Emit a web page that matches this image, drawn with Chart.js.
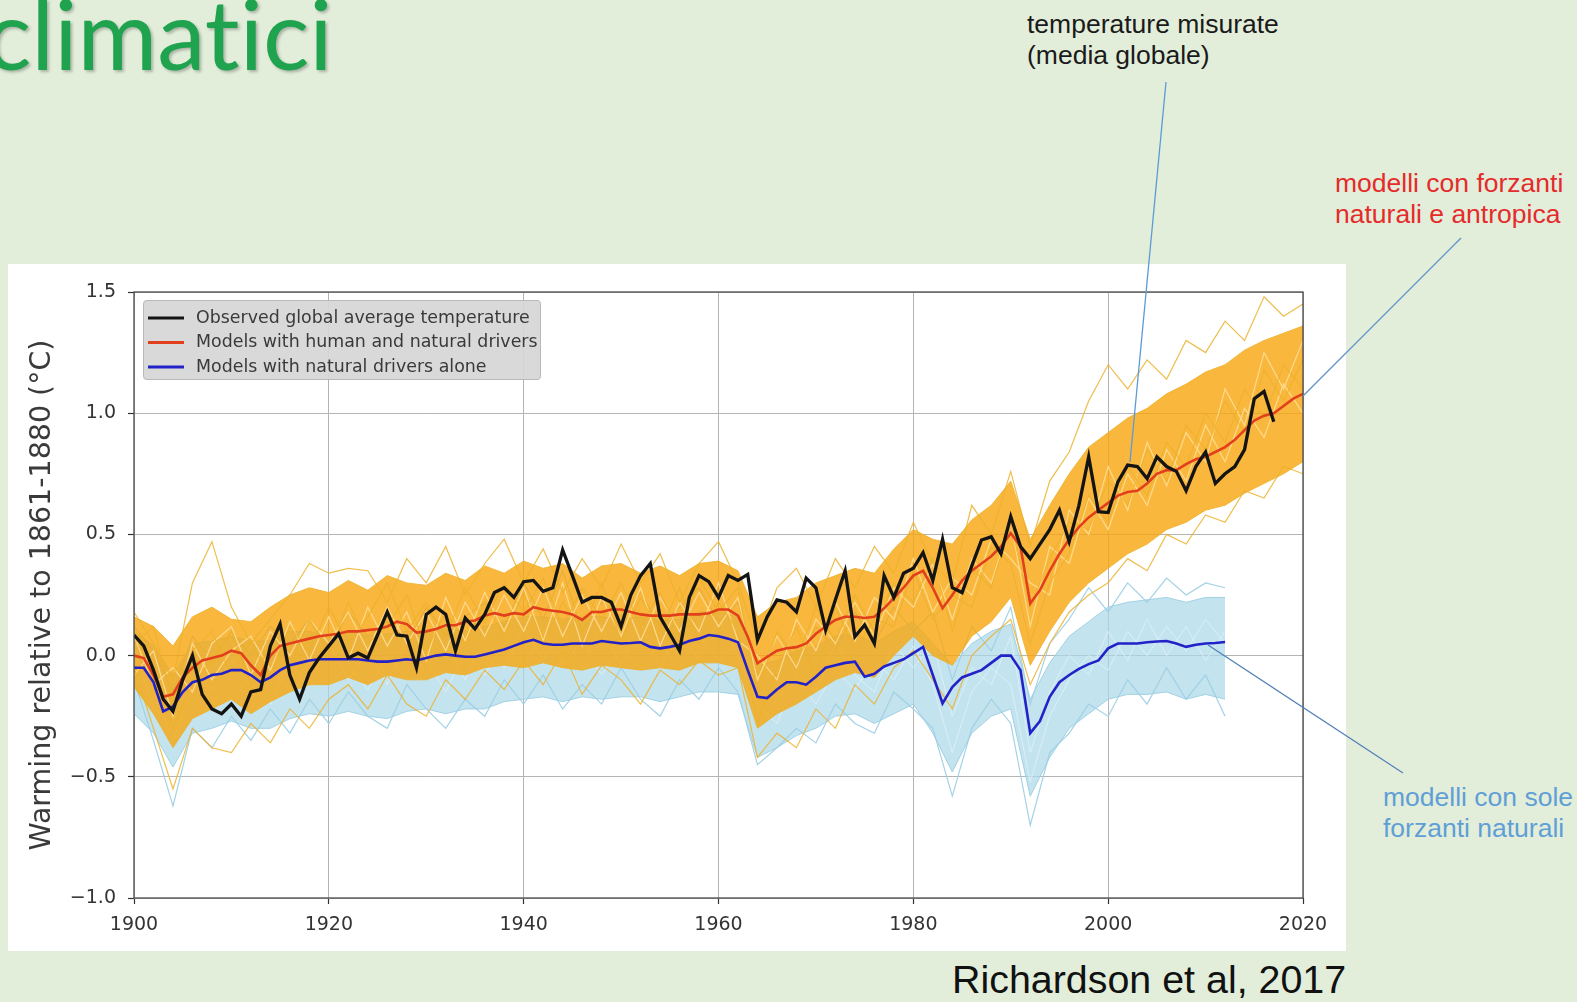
<!DOCTYPE html>
<html lang="it">
<head>
<meta charset="utf-8">
<title>Richardson et al, 2017</title>
<script src="https://cdn.jsdelivr.net/npm/chart.js@4.4.1/dist/chart.umd.min.js"></script>
<style>
    html, body { margin: 0; padding: 0; }
    body {
        width: 1577px; height: 1002px; position: relative; overflow: hidden;
        background: #e2eeda;
        font-family: "Liberation Sans", Arial, sans-serif;
    }
    .slide-title {
        position: absolute; left: -15px; top: -16px;
        font-family: Lato, "Open Sans", sans-serif; font-size: 97px; line-height: 1;
        font-variant-ligatures: none; font-feature-settings: "liga" 0;
        color: #1fa34f; text-shadow: 2px 2px 3px rgba(0, 0, 0, 0.25);
        white-space: nowrap;
    }
    #panel { position: absolute; left: 8px; top: 264px; width: 1338px; height: 687px; background: #fff; }
    .note { position: absolute; font-size: 26.5px; line-height: 31px; white-space: nowrap; }
    .note-black { left: 1027px; top: 9px; color: #1a1a1a; }
    .note-red { left: 1335px; top: 168px; color: #e52b2b; }
    .note-blue { left: 1383px; top: 782px; color: #5f9fd6; }
    .source { position: absolute; left: 952px; top: 960px; font-size: 39.4px; line-height: 1; color: #111; white-space: nowrap; }
    #leaders { position: absolute; left: 0; top: 0; pointer-events: none; }
</style>
</head>
<body>
<div class="slide-title">climatici</div>

<div class="note note-black">temperature misurate<br>(media globale)</div>
<div class="note note-red">modelli con forzanti<br>naturali e antropica</div>
<div class="note note-blue">modelli con sole<br>forzanti naturali</div>

<div id="panel"><canvas id="warming-chart" width="1338" height="687"></canvas></div>

<div class="source">Richardson et al, 2017</div>

<svg id="leaders" width="1577" height="1002">
    <line x1="1166" y1="82" x2="1130" y2="462" stroke="#5b9bd5" stroke-width="1.3"/>
    <line x1="1461" y1="238" x2="1303" y2="396" stroke="#5b8fc9" stroke-width="1.2"/>
    <line x1="1403" y1="773" x2="1208" y2="645" stroke="#4f7fb8" stroke-width="1.2"/>
</svg>

<script>
// Axis ticks
const xTicks = [1900, 1920, 1940, 1960, 1980, 2000, 2020];
const xTickLabels = ['1900', '1920', '1940', '1960', '1980', '2000', '2020'];
const yTicks = [-1.0, -0.5, 0.0, 0.5, 1.0, 1.5];
const yTickLabels = ['\u22121.0', '\u22120.5', '0.0', '0.5', '1.0', '1.5'];

// Legend entries
const legendLabels = [
    'Observed global average temperature',
    'Models with human and natural drivers',
    'Models with natural drivers alone'
];

// Observed global average temperature, yearly from 1900
const observedStart = 1900;
const observedValues = [
    0.085, 0.04, -0.06, -0.18, -0.23, -0.10, 0.00, -0.16, -0.22, -0.24,
    -0.20, -0.25, -0.15, -0.14, 0.04, 0.13, -0.08, -0.18, -0.07, -0.01,
    0.04, 0.09, -0.01, 0.01, -0.01, 0.085, 0.18, 0.085, 0.08, -0.05,
    0.17, 0.20, 0.17, 0.02, 0.155, 0.11, 0.17, 0.26, 0.28, 0.24,
    0.305, 0.31, 0.265, 0.28, 0.436, 0.33, 0.22, 0.24, 0.24, 0.22,
    0.12, 0.25, 0.33, 0.38, 0.16, 0.09, 0.02, 0.24, 0.33, 0.305,
    0.24, 0.33, 0.31, 0.335, 0.064, 0.16, 0.23, 0.22, 0.18, 0.32,
    0.28, 0.105, 0.23, 0.35, 0.078, 0.126, 0.05, 0.33, 0.24, 0.34,
    0.36, 0.425, 0.31, 0.48, 0.28, 0.26, 0.37, 0.477, 0.49, 0.42,
    0.573, 0.45, 0.40, 0.46, 0.52, 0.60, 0.47, 0.62, 0.82, 0.594,
    0.59, 0.717, 0.786, 0.78, 0.73, 0.82, 0.78, 0.76, 0.68, 0.78,
    0.84, 0.71, 0.75, 0.78, 0.85, 1.06, 1.09, 0.965
];

// Multi-model mean, human + natural drivers, yearly from 1900
const humanStart = 1900;
const humanMean = [
    0.00, -0.01, -0.08, -0.17, -0.16, -0.09, -0.05, -0.02, -0.01, 0.00,
    0.02, 0.01, -0.04, -0.08, 0.00, 0.04, 0.05, 0.06, 0.07, 0.08,
    0.085, 0.09, 0.10, 0.10, 0.105, 0.11, 0.12, 0.14, 0.13, 0.095,
    0.10, 0.11, 0.125, 0.125, 0.14, 0.145, 0.165, 0.175, 0.165, 0.175,
    0.17, 0.20, 0.19, 0.185, 0.18, 0.17, 0.147, 0.18, 0.18, 0.19,
    0.19, 0.18, 0.17, 0.165, 0.165, 0.165, 0.17, 0.17, 0.17, 0.175,
    0.19, 0.19, 0.165, 0.078, -0.032, -0.005, 0.02, 0.03, 0.035, 0.05,
    0.09, 0.12, 0.147, 0.16, 0.16, 0.155, 0.16, 0.195, 0.237, 0.28,
    0.33, 0.35, 0.28, 0.195, 0.25, 0.31, 0.35, 0.38, 0.41, 0.45,
    0.505, 0.45, 0.215, 0.27, 0.35, 0.42, 0.48, 0.53, 0.57, 0.60,
    0.63, 0.66, 0.675, 0.68, 0.71, 0.75, 0.765, 0.765, 0.79, 0.81,
    0.82, 0.84, 0.86, 0.89, 0.93, 0.97, 0.99, 1.00, 1.03, 1.06,
    1.08
];

// Multi-model mean, natural drivers only, yearly from 1900
const naturalStart = 1900;
const naturalMean = [
    -0.05, -0.05, -0.11, -0.23, -0.21, -0.15, -0.11, -0.10, -0.08, -0.075,
    -0.06, -0.06, -0.08, -0.11, -0.09, -0.06, -0.04, -0.03, -0.02, -0.015,
    -0.015, -0.015, -0.015, -0.015, -0.02, -0.025, -0.025, -0.02, -0.015, -0.02,
    -0.01, 0.00, 0.005, 0.00, -0.005, -0.005, 0.005, 0.015, 0.025, 0.04,
    0.055, 0.065, 0.05, 0.045, 0.045, 0.05, 0.05, 0.05, 0.06, 0.055,
    0.05, 0.052, 0.055, 0.036, 0.03, 0.036, 0.045, 0.06, 0.07, 0.085,
    0.08, 0.07, 0.055, -0.06, -0.17, -0.175, -0.14, -0.11, -0.11, -0.12,
    -0.087, -0.05, -0.04, -0.03, -0.025, -0.087, -0.075, -0.045, -0.03, -0.015,
    0.01, 0.036, -0.08, -0.197, -0.13, -0.09, -0.075, -0.06, -0.03, 0.00,
    0.00, -0.06, -0.32, -0.27, -0.17, -0.11, -0.08, -0.055, -0.035, -0.02,
    0.03, 0.05, 0.05, 0.05, 0.055, 0.058, 0.06, 0.05, 0.036, 0.045,
    0.05, 0.052, 0.056
];

// Ensemble spread, every second year (human + natural), 1900-2020
const ensembleStart = 1900;
const ensembleStep = 2;
const humanUpper = [
    0.16, 0.12, 0.04, 0.16, 0.20, 0.15, 0.14, 0.20, 0.25, 0.28,
    0.26, 0.31, 0.27, 0.33, 0.30, 0.29, 0.34, 0.31, 0.37, 0.34,
    0.39, 0.36, 0.38, 0.32, 0.37, 0.38, 0.34, 0.37, 0.33, 0.38,
    0.39, 0.35, 0.16, 0.22, 0.24, 0.30, 0.33, 0.36, 0.34, 0.44,
    0.52, 0.48, 0.46, 0.56, 0.62, 0.72, 0.48, 0.62, 0.75, 0.86,
    0.92, 0.98, 1.02, 1.08, 1.12, 1.17, 1.20, 1.26, 1.30, 1.33,
    1.36
];
const humanLower = [
    -0.13, -0.24, -0.38, -0.26, -0.22, -0.18, -0.24, -0.19, -0.15, -0.12,
    -0.12, -0.09, -0.12, -0.08, -0.10, -0.10, -0.07, -0.08, -0.05, -0.04,
    -0.05, -0.03, -0.05, -0.06, -0.04, -0.05, -0.06, -0.05, -0.06, -0.03,
    -0.03, -0.05, -0.30, -0.24, -0.20, -0.15, -0.10, -0.07, -0.09, 0.00,
    0.08, 0.00, -0.04, 0.08, 0.14, 0.24, -0.04, 0.10, 0.22, 0.30,
    0.36, 0.42, 0.46, 0.52, 0.55, 0.60, 0.62, 0.67, 0.71, 0.75,
    0.80
];
// Individual runs, human + natural
const humanRunA = [
    0.18, 0.05, -0.10, 0.30, 0.47, 0.20, 0.05, 0.15, 0.25, 0.38,
    0.34, 0.36, 0.35, 0.22, 0.40, 0.30, 0.45, 0.25, 0.38, 0.48,
    0.30, 0.44, 0.26, 0.40, 0.28, 0.46, 0.30, 0.42, 0.22, 0.38,
    0.47, 0.30, 0.05, 0.28, 0.36, 0.20, 0.40, 0.28, 0.45, 0.34,
    0.55, 0.38, 0.30, 0.62, 0.50, 0.76, 0.45, 0.72, 0.84, 1.05,
    1.20, 1.10, 1.22, 1.14, 1.30, 1.25, 1.38, 1.30, 1.48, 1.40,
    1.45
];
const humanRunB = [
    -0.05, -0.30, -0.55, -0.30, -0.38, -0.40, -0.28, -0.36, -0.22, -0.30,
    -0.18, -0.12, -0.22, -0.08, -0.20, -0.25, -0.10, -0.18, -0.06, -0.14,
    -0.02, -0.12, 0.02, -0.16, -0.04, -0.10, -0.20, -0.06, -0.12, -0.02,
    -0.08, -0.05, -0.42, -0.32, -0.38, -0.22, -0.30, -0.12, -0.20, -0.05,
    0.02, -0.10, -0.22, 0.00, 0.08, 0.15, -0.12, 0.05, 0.18, 0.25,
    0.30, 0.40, 0.35, 0.50, 0.46, 0.58, 0.55, 0.68, 0.65, 0.78,
    0.75
];
const humanRunC = [
    0.05, 0.12, -0.20, 0.02, 0.10, -0.08, 0.06, -0.10, 0.12, 0.02,
    0.20, 0.05, 0.16, 0.30, 0.10, 0.22, 0.08, 0.28, 0.14, 0.30,
    0.18, 0.32, 0.12, 0.28, 0.15, 0.30, 0.12, 0.26, 0.08, 0.32,
    0.18, 0.28, -0.15, 0.10, -0.02, 0.20, 0.06, 0.25, 0.10, 0.30,
    0.22, 0.40, 0.10, 0.36, 0.28, 0.55, 0.20, 0.40, 0.55, 0.52,
    0.72, 0.62, 0.85, 0.72, 0.95, 0.85, 1.05, 0.92, 1.18, 1.05,
    1.22
];
const humanRunD = [
    -0.02, -0.10, -0.30, -0.12, -0.02, 0.10, -0.12, 0.05, -0.05, 0.15,
    0.00, 0.22, 0.05, 0.12, 0.25, 0.02, 0.18, 0.05, 0.22, 0.08,
    0.26, 0.05, 0.22, 0.10, 0.30, 0.06, 0.24, 0.10, 0.28, 0.05,
    0.22, 0.10, -0.28, -0.05, 0.12, -0.08, 0.20, 0.02, 0.15, 0.12,
    0.35, 0.15, 0.25, 0.20, 0.45, 0.38, 0.05, 0.30, 0.42, 0.66,
    0.55, 0.78, 0.66, 0.88, 0.78, 1.00, 0.88, 1.10, 0.98, 1.20,
    1.10
];
const humanRunE = [
    0.08, -0.12, -0.05, -0.15, 0.05, 0.12, -0.08, 0.10, 0.00, 0.15,
    0.05, 0.18, 0.02, 0.20, 0.05, 0.18, 0.02, 0.22, 0.08, 0.25,
    0.10, 0.28, 0.08, 0.25, 0.10, 0.26, 0.06, 0.24, 0.10, 0.26,
    0.12, 0.24, -0.10, 0.08, -0.05, 0.15, 0.05, 0.22, 0.08, 0.28,
    0.20, 0.38, 0.15, 0.40, 0.30, 0.55, 0.12, 0.45, 0.38, 0.65,
    0.52, 0.75, 0.62, 0.85, 0.72, 0.95, 0.80, 1.02, 0.90, 1.12,
    1.00
];
const humanRunF = [
    -0.08, 0.02, -0.25, 0.05, -0.10, 0.02, 0.08, -0.06, 0.14, -0.02,
    0.16, -0.02, 0.20, 0.04, 0.18, -0.02, 0.24, 0.06, 0.26, 0.10,
    0.28, 0.06, 0.30, 0.04, 0.24, 0.08, 0.28, 0.04, 0.22, 0.10,
    0.30, 0.06, 0.00, -0.10, 0.15, 0.02, 0.22, 0.06, 0.24, 0.15,
    0.40, 0.18, 0.32, 0.25, 0.48, 0.40, 0.30, 0.25, 0.60, 0.50,
    0.78, 0.60, 0.88, 0.70, 0.92, 0.80, 1.10, 0.95, 1.25, 1.10,
    1.30
];

// Ensemble spread, every second year (natural only), 1900-2012
const naturalUpper = [
    0.10, 0.04, -0.08, 0.05, 0.06, 0.08, 0.06, 0.06, 0.10, 0.10,
    0.08, 0.10, 0.08, 0.09, 0.10, 0.10, 0.11, 0.10, 0.12, 0.14,
    0.16, 0.16, 0.15, 0.16, 0.16, 0.15, 0.16, 0.14, 0.15, 0.18,
    0.18, 0.16, -0.04, -0.02, 0.02, 0.04, 0.08, 0.09, 0.05, 0.10,
    0.14, 0.05, -0.04, 0.05, 0.10, 0.13, -0.18, -0.03, 0.08, 0.14,
    0.20, 0.22, 0.23, 0.24, 0.22, 0.24, 0.24
];
const naturalLower = [
    -0.24, -0.32, -0.46, -0.32, -0.30, -0.27, -0.30, -0.30, -0.26, -0.24,
    -0.25, -0.23, -0.25, -0.26, -0.23, -0.22, -0.24, -0.22, -0.22, -0.19,
    -0.18, -0.17, -0.19, -0.17, -0.18, -0.17, -0.17, -0.19, -0.17, -0.15,
    -0.15, -0.16, -0.42, -0.38, -0.33, -0.30, -0.25, -0.24, -0.28, -0.24,
    -0.20, -0.32, -0.48, -0.32, -0.25, -0.22, -0.58, -0.42, -0.30, -0.24,
    -0.18, -0.16, -0.16, -0.15, -0.18, -0.16, -0.18
];
// Individual runs, natural only
const naturalRunA = [
    -0.10, -0.35, -0.62, -0.30, -0.38, -0.25, -0.35, -0.22, -0.32, -0.18,
    -0.28, -0.15, -0.25, -0.30, -0.12, -0.22, -0.30, -0.18, -0.25, -0.10,
    -0.20, -0.08, -0.22, -0.12, -0.20, -0.05, -0.18, -0.25, -0.10, -0.18,
    -0.05, -0.15, -0.45, -0.38, -0.30, -0.36, -0.20, -0.28, -0.32, -0.15,
    -0.22, -0.30, -0.58, -0.30, -0.18, -0.28, -0.70, -0.40, -0.32, -0.20,
    -0.25, -0.10, -0.20, -0.05, -0.18, -0.08, -0.25
];
const naturalRunB = [
    0.12, 0.02, -0.15, 0.08, -0.02, 0.10, 0.00, 0.12, 0.05, 0.15,
    0.02, 0.18, 0.08, 0.14, 0.05, 0.20, 0.08, 0.16, 0.22, 0.12,
    0.30, 0.15, 0.35, 0.10, 0.22, 0.16, 0.26, 0.12, 0.20, 0.28,
    0.14, 0.22, -0.08, 0.08, -0.05, 0.12, 0.02, 0.18, 0.05, 0.20,
    0.10, 0.18, -0.10, 0.12, 0.02, 0.20, -0.20, 0.05, 0.15, 0.28,
    0.18, 0.30, 0.22, 0.32, 0.25, 0.30, 0.28
];
const naturalRunC = [
    -0.08, -0.15, -0.35, -0.12, -0.20, -0.08, -0.18, -0.05, -0.15, -0.02,
    -0.12, -0.04, -0.14, 0.00, -0.10, -0.02, -0.15, 0.02, -0.08, 0.05,
    -0.05, 0.10, -0.04, 0.06, -0.08, 0.04, -0.06, 0.05, -0.05, 0.08,
    -0.02, 0.06, -0.30, -0.18, -0.10, -0.20, -0.06, -0.14, -0.02, -0.10,
    0.04, -0.12, -0.40, -0.15, -0.05, -0.12, -0.52, -0.25, -0.10, 0.00,
    -0.06, 0.10, 0.00, 0.12, 0.02, 0.15, 0.05
];
const naturalRunD = [
    0.02, -0.22, -0.28, -0.05, -0.15, -0.02, -0.12, -0.20, -0.02, -0.12,
    0.05, -0.10, 0.02, -0.12, 0.06, -0.08, 0.05, -0.10, 0.08, -0.05,
    0.12, -0.02, 0.10, -0.05, 0.12, -0.04, 0.14, -0.05, 0.10, -0.02,
    0.15, 0.00, -0.20, -0.28, -0.08, -0.15, 0.05, -0.08, -0.15, 0.05,
    -0.05, 0.05, -0.25, -0.05, -0.12, 0.08, -0.40, -0.15, 0.00, -0.08,
    0.10, -0.02, 0.15, 0.00, 0.12, -0.02, 0.10
];

// Colours
const colors = {
    observed: '#141414',
    human: '#e2401c',
    natural: '#2222c8',
    humanBand: 'rgba(247, 166, 12, 0.8)',
    humanRun: 'rgba(236, 178, 45, 0.85)',
    humanInner: 'rgba(255, 222, 150, 0.9)',
    naturalBand: 'rgba(170, 215, 232, 0.7)',
    naturalRun: 'rgba(158, 208, 228, 0.95)',
    naturalInner: 'rgba(222, 241, 248, 0.9)'
};

// Turn a value list into {x, y} points
function toPoints(startYear, step, values) {
    return values.map((v, i) => ({ x: startYear + i * step, y: v }));
}

function lineSet(label, data, color, width, order, extra) {
    return Object.assign({
        label: label,
        data: data,
        borderColor: color,
        backgroundColor: color,
        borderWidth: width,
        pointRadius: 0,
        tension: 0,
        fill: false,
        order: order
    }, extra || {});
}

// Legend box drawn like the matplotlib one
const legendBox = {
    id: 'legendBox',
    afterDraw(chart) {
        const { ctx, chartArea } = chart;
        const left = chartArea.left + 9;
        const top = chartArea.top + 8;
        const rowColors = [colors.observed, colors.human, colors.natural];
        ctx.save();
        ctx.fillStyle = 'rgba(214, 214, 214, 0.92)';
        ctx.strokeStyle = '#b8b8b8';
        ctx.lineWidth = 1;
        ctx.beginPath();
        ctx.roundRect(left + 0.5, top + 0.5, 397, 79, 3);
        ctx.fill();
        ctx.stroke();
        ctx.font = '17.4px "DejaVu Sans"';
        ctx.textBaseline = 'middle';
        legendLabels.forEach((text, i) => {
            const y = top + 18 + i * 24.5;
            ctx.strokeStyle = rowColors[i];
            ctx.lineWidth = 3;
            ctx.beginPath();
            ctx.moveTo(left + 5, y);
            ctx.lineTo(left + 41, y);
            ctx.stroke();
            ctx.fillStyle = '#3a3a3a';
            ctx.fillText(text, left + 53, y);
        });
        ctx.restore();
    }
};

// Plot frame (all four spines)
const plotFrame = {
    id: 'plotFrame',
    afterDatasetsDraw(chart) {
        const { ctx, chartArea } = chart;
        ctx.save();
        ctx.strokeStyle = '#4a4a4a';
        ctx.lineWidth = 1.3;
        ctx.strokeRect(chartArea.left, chartArea.top,
            chartArea.right - chartArea.left, chartArea.bottom - chartArea.top);
        ctx.restore();
    }
};

Chart.defaults.font.family = '"DejaVu Sans", sans-serif';
Chart.defaults.color = '#333';

const ctx = document.getElementById('warming-chart');

new Chart(ctx, {
    type: 'line',
    data: {
        datasets: [
            lineSet(legendLabels[0], toPoints(observedStart, 1, observedValues), colors.observed, 3.3, 0),
            lineSet(legendLabels[1], toPoints(humanStart, 1, humanMean), colors.human, 2.6, 1),
            lineSet(legendLabels[2], toPoints(naturalStart, 1, naturalMean), colors.natural, 2.6, 2),
            // human + natural ensemble
            lineSet('human lower', toPoints(ensembleStart, ensembleStep, humanLower), colors.humanRun, 1, 4),
            lineSet('human upper', toPoints(ensembleStart, ensembleStep, humanUpper), colors.humanRun, 1, 4,
                { fill: '-1', backgroundColor: colors.humanBand }),
            lineSet('human run A', toPoints(ensembleStart, ensembleStep, humanRunA), colors.humanRun, 1.2, 3),
            lineSet('human run B', toPoints(ensembleStart, ensembleStep, humanRunB), colors.humanRun, 1.2, 3),
            lineSet('human run C', toPoints(ensembleStart, ensembleStep, humanRunC), colors.humanRun, 1.2, 3),
            lineSet('human run D', toPoints(ensembleStart, ensembleStep, humanRunD), colors.humanRun, 1.2, 3),
            lineSet('human run E', toPoints(ensembleStart, ensembleStep, humanRunE), colors.humanInner, 1.2, 3),
            lineSet('human run F', toPoints(ensembleStart, ensembleStep, humanRunF), colors.humanInner, 1.2, 3),
            // natural-only ensemble
            lineSet('natural lower', toPoints(ensembleStart, ensembleStep, naturalLower), colors.naturalRun, 1, 6),
            lineSet('natural upper', toPoints(ensembleStart, ensembleStep, naturalUpper), colors.naturalRun, 1, 6,
                { fill: '-1', backgroundColor: colors.naturalBand }),
            lineSet('natural run A', toPoints(ensembleStart, ensembleStep, naturalRunA), colors.naturalRun, 1.2, 5),
            lineSet('natural run B', toPoints(ensembleStart, ensembleStep, naturalRunB), colors.naturalRun, 1.2, 5),
            lineSet('natural run C', toPoints(ensembleStart, ensembleStep, naturalRunC), colors.naturalInner, 1, 5),
            lineSet('natural run D', toPoints(ensembleStart, ensembleStep, naturalRunD), colors.naturalInner, 1, 5)
        ]
    },
    options: {
        responsive: false,
        animation: false,
        layout: {
            padding: { left: 0, right: 43, top: 28, bottom: 0 }
        },
        plugins: {
            legend: { display: false },
            tooltip: { enabled: false }
        },
        scales: {
            x: {
                type: 'linear',
                min: 1900,
                max: 2020,
                afterFit(scale) { scale.height = 53; },
                afterBuildTicks(scale) { scale.ticks = xTicks.map(v => ({ value: v })); },
                ticks: {
                    padding: 10,
                    font: { size: 19 },
                    color: '#333',
                    maxRotation: 0,
                    callback: (value) => xTickLabels[xTicks.indexOf(value)]
                },
                grid: {
                    color: '#b4b4b4',
                    lineWidth: 1,
                    tickLength: 6,
                    tickColor: '#333',
                    tickWidth: 1.2
                },
                border: { display: false }
            },
            y: {
                type: 'linear',
                min: -1.0,
                max: 1.5,
                afterFit(scale) { scale.width = 126; },
                afterBuildTicks(scale) { scale.ticks = yTicks.map(v => ({ value: v })); },
                ticks: {
                    padding: 12,
                    font: { size: 19 },
                    color: '#333',
                    callback: (value) => yTickLabels[yTicks.indexOf(value)]
                },
                grid: {
                    color: '#b4b4b4',
                    lineWidth: 1,
                    tickLength: 6,
                    tickColor: '#333',
                    tickWidth: 1.2
                },
                border: { display: false },
                title: {
                    display: true,
                    text: 'Warming relative to 1861-1880 (\u00b0C)',
                    font: { size: 28.5 },
                    color: '#3a3a3a',
                    padding: { top: 17 }
                }
            }
        }
    },
    plugins: [plotFrame, legendBox]
});
</script>
</body>
</html>
